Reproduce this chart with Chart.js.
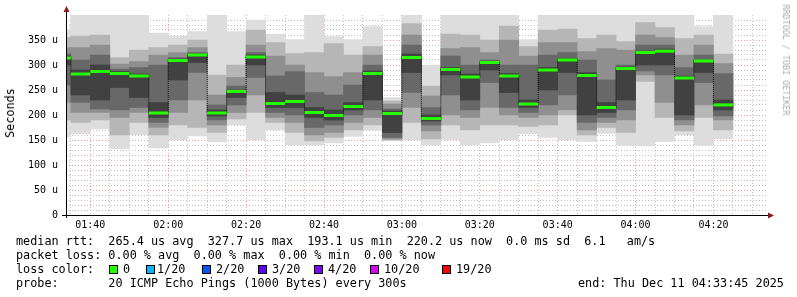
<!DOCTYPE html>
<html>
<head>
<meta charset="utf-8">
<script src="https://cdn.jsdelivr.net/npm/chart.js@4.4.1/dist/chart.umd.min.js"></script>
<style>
  body { margin: 0; background: #fff; }
  #wrap { position: relative; width: 797px; height: 297px; overflow: hidden; }
  #smoke-chart { position: absolute; left: 0; top: 0; }
  .txt { position: absolute; font-family: 'DejaVu Sans Mono', monospace; font-size: 11.8px;
         line-height: 14px; white-space: pre; color: #000; }
  .sq { position: absolute; width: 7px; height: 7px; border: 1px solid #000; top: 265px; }
  .vert { position: absolute; white-space: pre; font-family: 'DejaVu Sans Mono', monospace;
          transform: translate(-50%, -50%) rotate(-90deg); }
</style>
</head>
<body>
<div id="wrap">
  <canvas id="smoke-chart" width="797" height="297"></canvas>
  <div class="vert" style="left:10px;top:113px;font-size:11.8px;color:#000;">Seconds</div>
  <div class="vert" style="left:786px;top:60px;font-size:8.4px;color:#aaa;transform:translate(-50%,-50%) rotate(90deg);">RRDTOOL / TOBI OETIKER</div>
  <div class="txt" style="left:16px;top:234px;">median rtt:  265.4 us avg  327.7 us max  193.1 us min  220.2 us now  0.0 ms sd  6.1   am/s</div>
  <div class="txt" style="left:16px;top:248px;">packet loss: 0.00 % avg  0.00 % max  0.00 % min  0.00 % now</div>
  <div class="txt" style="left:16px;top:262px;">loss color:</div>
  <div id="loss-legend"></div>
  <div class="txt" style="left:16px;top:276px;">probe:       20 ICMP Echo Pings (1000 Bytes) every 300s</div>
  <div class="txt" style="left:578px;top:276px;">end: Thu Dec 11 04:33:45 2025</div>
</div>
<script>
// 5 minute slots (start time of each step)
const periods = ['01:30','01:35','01:40','01:45','01:50','01:55',
  '02:00','02:05','02:10','02:15','02:20','02:25','02:30','02:35','02:40','02:45','02:50','02:55',
  '03:00','03:05','03:10','03:15','03:20','03:25','03:30','03:35','03:40','03:45','03:50','03:55',
  '04:00','04:05','04:10','04:15','04:20'];

// median rtt per step (us)
const median = [314, 282, 287, 283, 278, 204, 309, 320, 204, 247, 316, 223, 227, 205, 199, 217, 283, 203,
  315, 193.1, 291, 276, 305, 278, 222, 290, 310, 279, 215, 293, 325, 327.7, 274, 308, 220.2];

// sorted pings per step (us), ping1 = fastest, ping20 = slowest
const ping20 = [370,400,400,400,400,364,358,367,400,367,390,362,351,400,357,351,377,235,
  400,300,400,400,400,400,351,400,400,400,400,400,400,400,400,377,400];
const ping18 = [355,358,360,315,330,335,340,350,280,300,370,345,323,325,343,320,337,228,
  383,258,362,360,350,378,337,370,372,353,360,347,385,375,353,360,322];
const ping16 = [335,335,340,302,307,320,325,335,240,275,340,318,300,285,277,285,320,222,
  360,238,333,335,325,350,318,345,345,327,333,330,360,355,320,340,303];
const ping14 = [322,310,320,292,295,300,315,325,220,258,325,278,287,245,240,260,300,212,
  340,215,318,300,310,300,300,320,325,310,270,300,340,340,295,320,283];
const ping12 = [318,290,300,287,282,225,312,322,210,250,320,245,240,215,210,225,288,208,
  322,200,295,282,307,283,230,295,313,285,225,296,328,332,278,310,230];
const ping9 = [300,240,230,255,235,195,270,305,198,235,300,215,215,195,190,210,230,165,
  285,188,280,230,290,245,215,250,285,200,205,230,300,300,200,285,210];
const ping7 = [260,225,212,210,215,185,230,285,190,220,275,205,200,175,180,200,210,155,
  245,180,240,210,265,215,205,220,240,185,195,210,288,280,190,265,198];
const ping5 = [225,205,205,195,205,175,205,230,180,205,240,195,185,160,165,185,195,152,
  215,168,200,195,215,200,195,200,210,170,185,190,280,225,180,220,190];
const ping3 = [190,185,190,160,185,160,180,175,165,192,205,185,165,148,155,170,180,150,
  185,152,180,170,180,180,177,180,200,160,175,165,267,195,168,195,170];
const ping1 = [156,162,172,132,160,134,150,158,146,180,150,170,140,140,144,157,169,148,
  150,140,150,140,144,150,162,155,150,147,163,139,138,147,160,139,152];

const xTickLabels = ['01:40','02:00','02:20','02:40','03:00','03:20','03:40','04:00','04:20'];
const yTickValues = [0, 50, 100, 150, 200, 250, 300, 350];
const yTickLabels = ['0','50 u','100 u','150 u','200 u','250 u','300 u','350 u'];

const lossLabels = ['0','1/20','2/20','3/20','4/20','10/20','19/20'];
const lossColors = ['#26ff00','#00b8ff','#0059ff','#5e00ff','#7e00ff','#dd00ff','#ff0000'];

const toMin = s => { const [h, m] = s.split(':').map(Number); return h * 60 + m; };
const fmtMin = v => String(Math.floor(v / 60)).padStart(2, '0') + ':' + String(v % 60).padStart(2, '0');

const STEP = 5;
const xs = periods.map(p => toMin(p) + STEP / 2);
const viewEnd = toMin('04:33') + 0.75;    // 04:33:45
const viewStart = viewEnd - 180;

// legend of loss colours
const lossBox = document.getElementById('loss-legend');
const sqX = [109, 146, 202, 258, 314, 370, 442];
const lblX = [123, 157, 216, 272, 328, 384, 456];
lossLabels.forEach((l, i) => {
  const sq = document.createElement('div');
  sq.className = 'sq';
  sq.style.left = sqX[i] + 'px';
  sq.style.background = lossColors[i];
  lossBox.appendChild(sq);
  const t = document.createElement('div');
  t.className = 'txt';
  t.style.left = lblX[i] + 'px';
  t.style.top = '262px';
  t.textContent = l;
  lossBox.appendChild(t);
});

// smoke layers, outer to inner
const layers = [
  [ping1, ping20, '#dddddd'],
  [ping3, ping18, '#b6b6b6'],
  [ping5, ping16, '#8f8f8f'],
  [ping7, ping14, '#686868'],
  [ping9, ping12, '#414141']
];

const smokeSets = layers.map(([lo, hi, col], i) => ({
  type: 'bar',
  data: xs.map((x, k) => ({ x: x, y: [lo[k], hi[k]] })),
  backgroundColor: col,
  borderWidth: 0,
  barPercentage: 1,
  categoryPercentage: 1,
  grouped: false,
  order: 10 - i
}));

const RED = 'rgba(215,70,70,0.5)';
const GRAY = 'rgba(170,170,170,0.7)';

const axisArrows = {
  id: 'axisArrows',
  afterDraw(chart) {
    const { ctx, chartArea: a } = chart;
    ctx.save();
    ctx.strokeStyle = '#000';
    ctx.lineWidth = 1;
    ctx.beginPath();
    ctx.moveTo(a.left - 4, a.bottom + 0.5);
    ctx.lineTo(a.right + 3, a.bottom + 0.5);
    ctx.moveTo(a.left + 0.5, a.bottom + 3);
    ctx.lineTo(a.left + 0.5, a.top - 4);
    ctx.stroke();
    ctx.fillStyle = '#8b1a1a';
    ctx.beginPath();
    ctx.moveTo(a.left + 0.5, a.top - 9);
    ctx.lineTo(a.left - 2.5, a.top - 3);
    ctx.lineTo(a.left + 3.5, a.top - 3);
    ctx.closePath();
    ctx.fill();
    ctx.beginPath();
    ctx.moveTo(a.right + 7, a.bottom + 0.5);
    ctx.lineTo(a.right + 1, a.bottom - 2.5);
    ctx.lineTo(a.right + 1, a.bottom + 3.5);
    ctx.closePath();
    ctx.fill();
    ctx.restore();
  }
};

Chart.defaults.font.family = "'DejaVu Sans Mono', monospace";
Chart.defaults.color = '#000';

new Chart(document.getElementById('smoke-chart'), {
  type: 'bar',
  data: {
    datasets: [
      ...smokeSets,
      {
        type: 'line',
        data: xs.map((x, k) => ({ x: x, y: median[k] })),
        stepped: 'middle',
        borderColor: '#111',
        borderWidth: 1,
        borderDash: [1, 1],
        pointRadius: 0,
        order: 2
      },
      {
        type: 'line',
        data: xs.map((x, k) => ({ x: x, y: median[k] })),
        showLine: false,
        pointStyle: 'line',
        pointRadius: ctx => {
          const sx = ctx.chart.scales.x;
          return Math.abs(sx.getPixelForValue(STEP) - sx.getPixelForValue(0)) / 2;
        },
        pointBorderColor: '#26ff00',
        pointBorderWidth: 3,
        order: 1
      }
    ]
  },
  options: {
    responsive: false,
    animation: false,
    events: [],
    layout: { padding: { top: 15, right: 30, left: 0, bottom: 0 } },
    plugins: { legend: { display: false }, tooltip: { enabled: false } },
    scales: {
      x: {
        type: 'linear',
        min: viewStart,
        max: viewEnd,
        offset: false,
        z: 1,
        afterBuildTicks: scale => {
          const t = [];
          for (let v = Math.ceil(viewStart / STEP) * STEP; v < viewEnd; v += STEP) t.push({ value: v });
          scale.ticks = t;
        },
        afterFit: scale => { scale.height = 82; },
        grid: {
          offset: false,
          drawTicks: false,
          color: ctx => xTickLabels.includes(fmtMin(ctx.tick.value)) ? RED : GRAY
        },
        border: { display: false, dash: [1, 2] },
        ticks: {
          autoSkip: false,
          maxRotation: 0,
          padding: 4,
          font: { size: 10 },
          callback: v => xTickLabels.includes(fmtMin(v)) ? fmtMin(v) : ''
        }
      },
      y: {
        type: 'linear',
        min: 0,
        max: 400,
        z: 1,
        afterBuildTicks: scale => {
          const t = [];
          for (let v = 0; v <= 400; v += 10) t.push({ value: v });
          scale.ticks = t;
        },
        afterFit: scale => { scale.width = 66; },
        grid: {
          drawTicks: false,
          color: ctx => {
            const v = ctx.tick.value;
            if (v >= 400) return 'rgba(0,0,0,0)';
            return yTickValues.includes(v) ? RED : GRAY;
          }
        },
        border: { display: false, dash: [1, 2] },
        ticks: {
          autoSkip: false,
          padding: 8,
          font: { size: 10 },
          callback: v => {
            const i = yTickValues.indexOf(v);
            return i >= 0 ? yTickLabels[i] : '';
          }
        }
      }
    }
  },
  plugins: [axisArrows]
});
</script>
</body>
</html>
